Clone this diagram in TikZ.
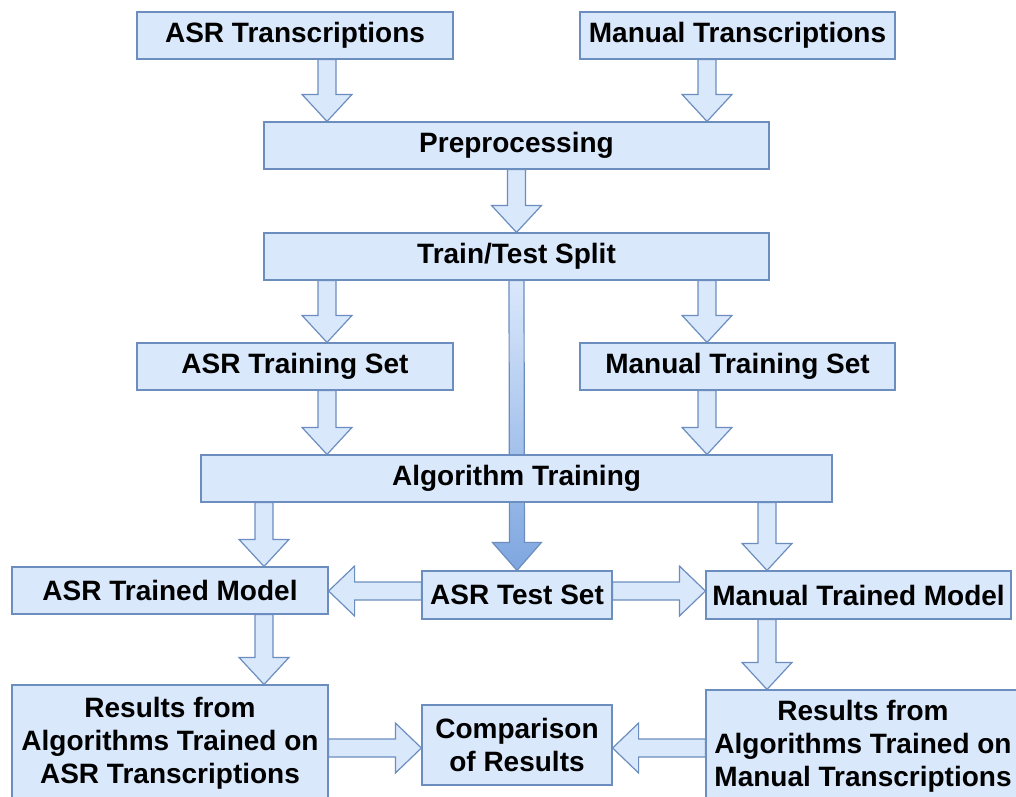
\documentclass[tikz,border=0pt]{standalone}
\usepackage{fontspec}
\setmainfont{Liberation Sans}
\usetikzlibrary{calc,backgrounds}
\definecolor{boxfill}{HTML}{DAE8FC}
\definecolor{boxline}{HTML}{6C8EBF}
\definecolor{deepblue}{HTML}{7EA6E0}
\tikzset{
  box/.style={draw=boxline, fill=boxfill, line width=1.2pt, inner sep=0pt, align=center,
    font=\fontsize{28}{33}\selectfont\bfseries, text=black},
  blockarrow/.style={draw=boxline, fill=boxfill, line width=1.2pt, line join=miter},
  bigarrow/.style={draw=boxline, top color=boxfill, bottom color=deepblue, line width=1.2pt, line join=miter},
}
% #1 style, #2 start, #3 tip, #4 shaft half-width, #5 head half-width, #6 head length
\newcommand{\blockarr}[6]{%
  \path #2 coordinate (ba-s) #3 coordinate (ba-e);
  \path ($(ba-e)!#6!(ba-s)$) coordinate (ba-h);
  \draw[#1] ($(ba-s)!#4!90:(ba-e)$) -- ($(ba-h)!#4!90:(ba-e)$) -- ($(ba-h)!#5!90:(ba-e)$) -- (ba-e)
    -- ($(ba-h)!#5!-90:(ba-e)$) -- ($(ba-h)!#4!-90:(ba-e)$) -- ($(ba-s)!#4!-90:(ba-e)$) -- cycle;
}
\begin{document}
\begin{tikzpicture}[x=1pt,y=-1pt]
\useasboundingbox (0,0) rectangle (1016,796);
\clip (0,0) rectangle (1016,796);

\node[box, minimum width=316, minimum height=47] (asrT) at (295,35.5) {ASR Transcriptions};
\node[box, minimum width=315, minimum height=47] (manT) at (737.5,35.5) {Manual Transcriptions};
\node[box, minimum width=505, minimum height=47] (pre) at (516.5,145.5) {Preprocessing};
\node[box, minimum width=505, minimum height=47] (split) at (516.5,256.5) {Train/Test Split};
\node[box, minimum width=316, minimum height=47] (asrTr) at (295,366.5) {ASR Training Set};
\node[box, minimum width=315, minimum height=47] (manTr) at (737.5,366.5) {Manual Training Set};
\node[box, minimum width=631, minimum height=47] (alg) at (516.5,478.5) {Algorithm Training};
\node[box, minimum width=316, minimum height=47] (asrM) at (170,590.5) {ASR Trained Model};
\node[box, minimum width=190, minimum height=48] (test) at (517,595) {ASR Test Set};
\node[box, minimum width=305, minimum height=48] (manM) at (858.5,595) {Manual Trained Model};
\node[box, minimum width=316, minimum height=116] (resA) at (170,743) {Results from\\Algorithms Trained on\\ASR Transcriptions};
\node[box, minimum width=190, minimum height=80] (comp) at (517,745) {Comparison\\of Results};
\node[box, minimum width=314, minimum height=112] (resM) at (863,746) {Results from\\Algorithms Trained on\\Manual Transcriptions};

\coordinate (c1) at (327,0);
\coordinate (c2) at (707,0);
\coordinate (c3) at (264,0);
\coordinate (c4) at (767,0);
\coordinate (r3) at (0,591);
\coordinate (r5) at (0,748);

\begin{scope}[on background layer]
\fill[white] (0,0) rectangle (1016,796);
\blockarr{blockarrow}{(asrT.south -| c1)}{(pre.north -| c1)}{9pt}{25pt}{27pt}
\blockarr{blockarrow}{(manT.south -| c2)}{(pre.north -| c2)}{9pt}{25pt}{27pt}
\blockarr{blockarrow}{(pre.south)}{(split.north)}{9pt}{25pt}{27pt}
\blockarr{blockarrow}{(split.south -| c1)}{(asrTr.north -| c1)}{9pt}{25pt}{27pt}
\blockarr{blockarrow}{(split.south -| c2)}{(manTr.north -| c2)}{9pt}{25pt}{27pt}
\blockarr{blockarrow}{(asrTr.south -| c1)}{(alg.north -| c1)}{9pt}{25pt}{27pt}
\blockarr{blockarrow}{(manTr.south -| c2)}{(alg.north -| c2)}{9pt}{25pt}{27pt}
\blockarr{blockarrow}{(alg.south -| c3)}{(asrM.north -| c3)}{9pt}{25pt}{27pt}
\blockarr{blockarrow}{(alg.south -| c4)}{(manM.north -| c4)}{9pt}{25pt}{27pt}
\blockarr{bigarrow}{(split.south)}{(test.north)}{7.5pt}{24.5pt}{28pt}
\blockarr{blockarrow}{(test.west |- r3)}{(asrM.east |- r3)}{9pt}{25pt}{26pt}
\blockarr{blockarrow}{(test.east |- r3)}{(manM.west |- r3)}{9pt}{25pt}{26pt}
\blockarr{blockarrow}{(asrM.south -| c3)}{(resA.north -| c3)}{9pt}{25pt}{27pt}
\blockarr{blockarrow}{(manM.south -| c4)}{(resM.north -| c4)}{9pt}{25pt}{27pt}
\blockarr{blockarrow}{(resA.east |- r5)}{(comp.west |- r5)}{9pt}{25pt}{26pt}
\blockarr{blockarrow}{(resM.west |- r5)}{(comp.east |- r5)}{9pt}{25pt}{26pt}
\end{scope}
\end{tikzpicture}
\end{document}
